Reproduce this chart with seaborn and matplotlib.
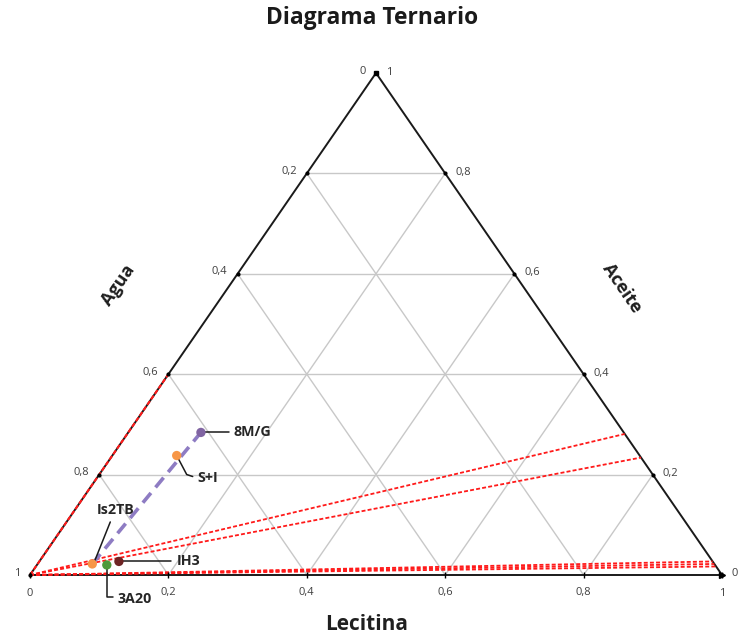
import numpy as np
import pandas as pd
import matplotlib
matplotlib.use("Agg")
import matplotlib.pyplot as plt
import seaborn as sns

sns.set_theme(style="white")
plt.rcParams["font.family"] = ["Open Sans", "DejaVu Sans"]

# Composition of each sample (fractions): Lecitina, Aceite (Agua = 1 - both)
samples = ["8M/G", "S+I", "Is2TB", "3A20", "IH3"]
lecitina = [0.105, 0.093, 0.079, 0.101, 0.115]
aceite = [0.284, 0.238, 0.022, 0.020, 0.027]
colors = ["#8064A2", "#F79646", "#F79646", "#4E9A3A", "#6E2424"]

# Water-dilution lines: they leave the Agua vertex and end on the Agua = 0 side
dilution_aceite = [0.281, 0.234, 0.027, 0.022, 0.017]

# Grid / tick values
grid_vals = [0.2, 0.4, 0.6, 0.8]
tick_vals = [0, 0.2, 0.4, 0.6, 0.8, 1]
tick_text = ["0", "0,2", "0,4", "0,6", "0,8", "1"]


def to_xy(lec, ace):
    """Ternary (Lecitina, Aceite) -> plotting plane."""
    lec = np.asarray(lec, dtype=float)
    ace = np.asarray(ace, dtype=float)
    return lec + ace / 2.0, ace


fig = plt.figure(figsize=(7.40, 6.42), dpi=100)
ax = fig.add_axes([0, 0, 1, 1])
W, H = 692.0, 502.0
ax.set_xlim(-30 / W, (740 - 30) / W)
ax.set_ylim(-(642 - 575) / H, 575 / H)
ax.axis("off")

grid_kw = dict(color="#C8C8C8", lw=1.0, zorder=1)
for g in grid_vals:
    # constant Aceite
    x, y = to_xy([0, 1 - g], [g, g])
    ax.plot(x, y, **grid_kw)
    # constant Lecitina
    x, y = to_xy([g, g], [0, 1 - g])
    ax.plot(x, y, **grid_kw)
    # constant Agua
    x, y = to_xy([1 - g, 0], [0, 1 - g])
    ax.plot(x, y, **grid_kw)

# Triangle outline
x, y = to_xy([0, 1, 0, 0], [0, 0, 1, 0])
ax.plot(x, y, color="#1A1A1A", lw=1.4, zorder=3)
ax.plot([1], [0], marker=">", color="black", ms=5, zorder=4)
ax.plot([0.5], [1], marker="s", color="black", ms=2.5, zorder=4)

# Dilution lines in red
for a in dilution_aceite:
    x, y = to_xy([0, 1 - a], [0, a])
    ax.plot(x, y, color="#FF1A1A", lw=1.3, ls=(0, (2.2, 1.2)), zorder=4)
x, y = to_xy([0, 0], [0, 0.4])
ax.plot(x, y, color="#FF1A1A", lw=1.5, ls=(0, (2.2, 1.0)), zorder=4)

# Trajectory between samples
df = pd.DataFrame({"muestra": samples, "lecitina": lecitina, "aceite": aceite})
df["x"], df["y"] = to_xy(df["lecitina"], df["aceite"])
traj = df.set_index("muestra").loc[["Is2TB", "8M/G"]]
ax.plot(traj["x"], traj["y"], color="#8E7CC3", lw=2.6, ls=(0, (3.5, 2.0)), zorder=5)

sns.scatterplot(data=df, x="x", y="y", hue="muestra", palette=dict(zip(samples, colors)),
                s=45, edgecolor="none", legend=False, ax=ax, zorder=6)

# Tick marks and labels
tick_fs = 8
for v, t in zip(tick_vals, tick_text):
    # bottom edge (Lecitina)
    x, y = to_xy([v], [0])
    ax.plot(x, y, marker="|", color="black", ms=5, zorder=4)
    ax.text(x[0], y[0] - 18 / H, t, ha="center", va="center", fontsize=tick_fs, color="#404040")
    # left edge (Agua): Agua = v -> Aceite = 1 - v
    x, y = to_xy([0], [1 - v])
    ax.plot(x, y, marker="o", color="black", ms=2, zorder=4)
    ax.text(x[0] - 10 / W, y[0] + 2 / H, t, ha="right", va="center", fontsize=tick_fs, color="#404040")
    # right edge (Aceite)
    x, y = to_xy([1 - v], [v])
    ax.plot(x, y, marker="o", color="black", ms=2, zorder=4)
    ax.text(x[0] + 10 / W, y[0] + 1 / H, t, ha="left", va="center", fontsize=tick_fs, color="#404040")

lab_kw = dict(fontsize=10.3, fontweight="bold", color="#262626", zorder=7)
line_kw = dict(color="#1A1A1A", lw=1.1, zorder=5)
pts = df.set_index("muestra")

p = pts.loc["8M/G"]
ax.plot([p.x, p.x + 28 / W], [p.y, p.y], **line_kw)
ax.text(p.x + 33 / W, p.y, "8M/G", ha="left", va="center", **lab_kw)

p = pts.loc["S+I"]
ax.plot([p.x, p.x + 10 / W, p.x + 16 / W], [p.y, p.y - 19 / H, p.y - 21 / H], **line_kw)
ax.text(p.x + 21 / W, p.y - 22 / H, "S+I", ha="left", va="center", **lab_kw)

p = pts.loc["Is2TB"]
ax.plot([p.x + 2 / W, p.x + 18 / W], [p.y + 2 / H, p.y + 42 / H], **line_kw)
ax.text(p.x + 23 / W, p.y + 54 / H, "Is2TB", ha="center", va="center", **lab_kw)

p = pts.loc["IH3"]
ax.plot([p.x, p.x + 52 / W], [p.y, p.y], **line_kw)
ax.text(p.x + 58 / W, p.y, "IH3", ha="left", va="center", **lab_kw)

p = pts.loc["3A20"]
ax.plot([p.x, p.x, p.x + 6 / W], [p.y, p.y - 32 / H, p.y - 32 / H], **line_kw)
ax.text(p.x + 11 / W, p.y - 34 / H, "3A20", ha="left", va="center", **lab_kw)

# Axis names and title
ang = np.degrees(np.arctan2(502, 345))
ax.text((118 - 30) / W, (575 - 285) / H, "Agua", rotation=ang, ha="center", va="center",
        fontsize=13, fontweight="bold", color="#1F1F1F")
ax.text((622 - 30) / W, (575 - 288) / H, "Aceite", rotation=-ang, ha="center", va="center",
        fontsize=13, fontweight="bold", color="#1F1F1F")
ax.text((367 - 30) / W, (575 - 625) / H, "Lecitina", ha="center", va="center",
        fontsize=15, fontweight="bold", color="#1F1F1F")
ax.text((372 - 30) / W, (575 - 18) / H, "Diagrama Ternario", ha="center", va="center",
        fontsize=16.4, fontweight="bold", color="#1A1A1A")

fig.savefig("out.png", dpi=100)
